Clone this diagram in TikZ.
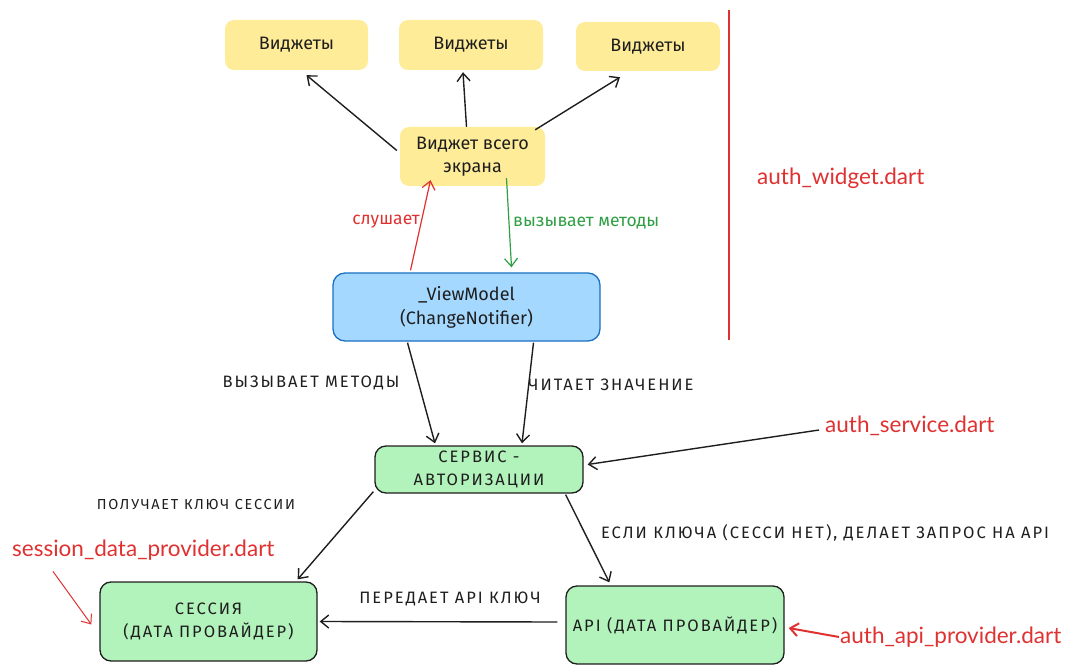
\documentclass[tikz,border=0pt]{standalone}
\usepackage{fontspec}
\setmainfont{Fira Sans}
\newfontfamily\capsfont[LetterSpace=12]{Fira Sans}
\newfontfamily\filefont{Lato}
\usetikzlibrary{arrows.meta,calc}
\definecolor{ylw}{HTML}{FFEC99}
\definecolor{blu}{HTML}{A5D8FF}
\definecolor{bluline}{HTML}{1971C2}
\definecolor{grn}{HTML}{B2F2BB}
\definecolor{redc}{HTML}{E03131}
\definecolor{grnc}{HTML}{2F9E44}
\definecolor{ink}{HTML}{1E1E1E}
\tikzset{
  ybox/.style={fill=ylw, draw=none, rounded corners=9pt, align=center, text=ink,
    font=\fontsize{18}{23}\selectfont},
  vbox/.style={fill=blu, draw=bluline, line width=1.3pt, rounded corners=12pt, align=center, text=ink,
    font=\fontsize{18}{24}\selectfont},
  gbox/.style={fill=grn, draw=ink, line width=1.3pt, rounded corners=11pt, align=center, text=ink,
    font=\capsfont\fontsize{16.5}{23.5}\selectfont},
  arr/.style={draw=ink, line width=1.4pt, -{Straight Barb[length=8pt,width=13pt]}},
  rarr/.style={arr, draw=redc, line width=1.2pt},
  garr/.style={arr, draw=grnc, line width=1.2pt},
  lbl/.style={text=ink, font=\capsfont\fontsize{16.5}{18}\selectfont, inner sep=1pt},
  fname/.style={text=redc, font=\filefont\fontsize{22.5}{26}\selectfont, anchor=west, inner sep=1pt}
}
\begin{document}
\begin{tikzpicture}[x=1pt,y=-1pt]
\useasboundingbox (0,0) rectangle (1068,668);
% nodes
\node[ybox, minimum width=143pt, minimum height=50pt] (w1) at (296.5,45) {Виджеты};
\node[ybox, minimum width=144pt, minimum height=50pt] (w2) at (471,45) {Виджеты};
\node[ybox, minimum width=144pt, minimum height=49pt] (w3) at (648,46.5) {Виджеты};
\node[ybox, minimum width=145pt, minimum height=59pt] (fs) at (472.5,156.5) {Виджет всего\\экрана};
\node[vbox, minimum width=267pt, minimum height=68pt] (vm) at (466.5,307) {\_ViewModel\\(ChangeNotifier)};
\node[gbox, minimum width=208pt, minimum height=47pt] (svc) at (479,469.5) {СЕРВИС -\\АВТОРИЗАЦИИ};
\node[gbox, minimum width=217pt, minimum height=79pt] (ses) at (208.5,621.5) {СЕССИЯ\\(ДАТА ПРОВАЙДЕР)};
\node[gbox, minimum width=218pt, minimum height=78pt] (api) at (675,625) {API (ДАТА ПРОВАЙДЕР)};
% file labels
\node[fname] (fw) at (756,178) {auth\_widget.dart};
\node[fname] (fsvc) at (824,426) {auth\_service.dart};
\node[fname] (fses) at (11,550) {session\_data\_provider.dart};
\node[fname] (fapi) at (839,637) {auth\_api\_provider.dart};
\draw[redc, line width=1.4pt] (729,10) -- (729,340);
% edge labels
\node[text=redc, font=\fontsize{17.5}{20}\selectfont, inner sep=1pt] (l1) at (386,222) {слушает};
\node[text=grnc, font=\fontsize{17.5}{20}\selectfont, inner sep=1pt, anchor=west] (l2) at (512,223) {вызывает методы};
\node[lbl] (l3) at (311,383) {ВЫЗЫВАЕТ МЕТОДЫ};
\node[lbl] (l4) at (611,385) {ЧИТАЕТ ЗНАЧЕНИЕ};
\node[lbl, font=\capsfont\fontsize{14.5}{16}\selectfont] (l5) at (196,505) {ПОЛУЧАЕТ КЛЮЧ СЕССИИ};
\node[lbl] (l6) at (825,533) {ЕСЛИ КЛЮЧА (СЕССИ НЕТ), ДЕЛАЕТ ЗАПРОС НА API};
\node[lbl] (l7) at (450,599) {ПЕРЕДАЕТ API КЛЮЧ};
% connectors
\draw[arr] ($(fs.west)+(-3,-6)$) -- ($(w1.south)+(10,5)$);
\draw[arr] ($(fs.north)+(-6,0)$) -- ($(w2.south)+(-8,2)$);
\draw[arr] ($(fs.north east)+(-10,3)$) -- ($(w3.south)+(-28,6)$);
\draw[rarr] ($(vm.north)+(-56,-2)$) -- ($(fs.south)+(-42,-6)$);
\draw[garr] ($(fs.south)+(34,-8)$) -- ($(vm.north)+(45,-5)$);
\draw[arr] ($(vm.south)+(-59,1)$) -- ($(svc.north)+(-44,-2)$);
\draw[arr] ($(vm.south)+(67,1)$) -- ($(svc.north)+(43,-2)$);
\draw[arr] ($(fsvc.west)+(-5,4)$) -- ($(svc.east)+(4,-5)$);
\draw[arr] ($(svc.south west)+(-1,-2)$) -- ($(ses.north east)+(-20,-2)$);
\draw[arr] ($(svc.south east)+(-18,1)$) -- ($(api.north west)+(44,-3)$);
\draw[arr] ($(api.west)+(-8,-3)$) -- ($(ses.east)+(2,0)$);
\draw[rarr, line width=1pt] ($(fses.south west)+(42,10)$) -- ($(ses.west)+(-8,3)$);
\draw[rarr, line width=2pt] (fapi.west) -- ($(api.east)+(4,3)$);
\end{tikzpicture}
\end{document}
